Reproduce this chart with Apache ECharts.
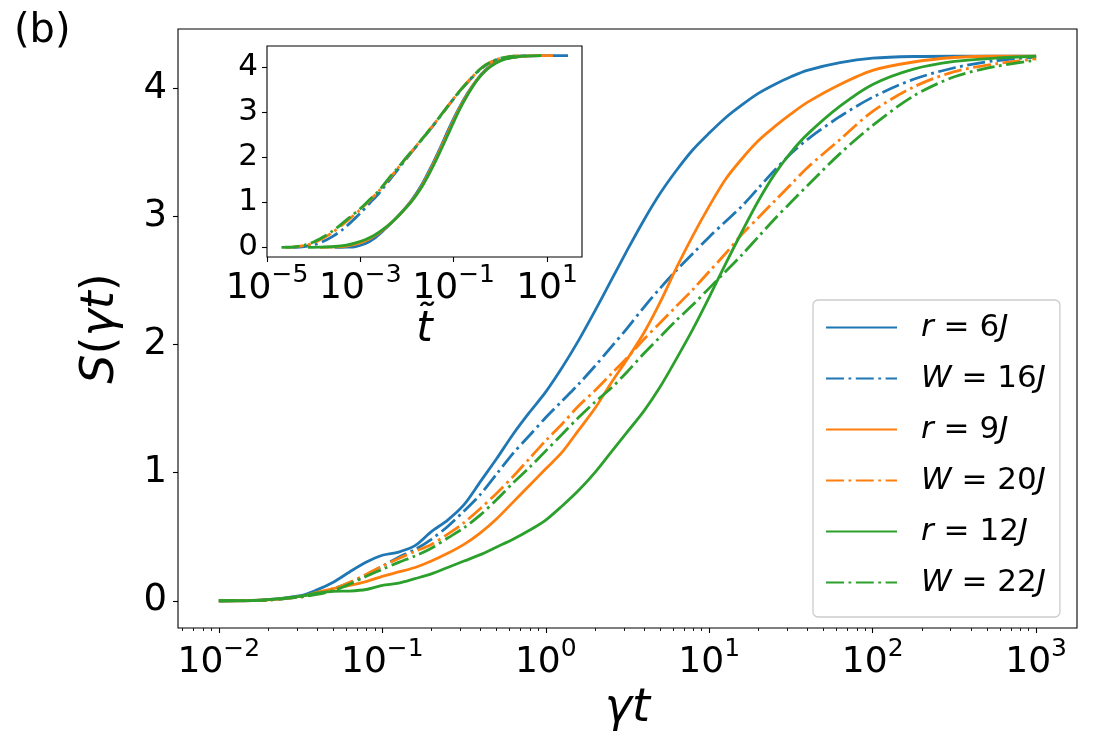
<!DOCTYPE html>
<html>
<head>
<meta charset="utf-8">
<script src="https://cdn.jsdelivr.net/npm/echarts@6/dist/echarts.min.js"></script>
<style>
html, body { margin: 0; padding: 0; background: #fff; }
#main { width: 1100px; height: 750px; }
</style>
</head>
<body>
<div id="main"></div>
<script>
// main panel: x is log10(gamma t)
var logGt = [-2, -1.75, -1.5, -1.4, -1.3, -1.2, -1.1, -1.0, -0.9, -0.8, -0.7, -0.6, -0.5, -0.4, -0.3, -0.2, -0.1,
	0, 0.1, 0.2, 0.3, 0.4, 0.5, 0.6, 0.7, 0.8, 0.9, 1.0, 1.1, 1.2, 1.3, 1.4, 1.5, 1.6, 1.8, 2.0, 2.25, 2.5, 2.75, 3.0];
var sR6 = [0, 0.004, 0.04, 0.085, 0.145, 0.225, 0.30, 0.355, 0.38, 0.43, 0.54, 0.63, 0.75, 0.93, 1.11, 1.30, 1.47,
	1.63, 1.82, 2.03, 2.26, 2.50, 2.74, 2.97, 3.18, 3.36, 3.52, 3.65, 3.77, 3.87, 3.96, 4.03, 4.09, 4.14, 4.20, 4.235, 4.248, 4.25, 4.25, 4.25];
var sW16 = [0, 0.003, 0.03, 0.06, 0.095, 0.14, 0.20, 0.27, 0.34, 0.40, 0.48, 0.58, 0.70, 0.83, 0.99, 1.15, 1.29,
	1.43, 1.56, 1.69, 1.83, 1.98, 2.13, 2.29, 2.44, 2.58, 2.71, 2.84, 2.96, 3.08, 3.22, 3.36, 3.49, 3.60, 3.78, 3.93, 4.07, 4.16, 4.215, 4.244];
var sR9 = [0, 0.004, 0.035, 0.065, 0.095, 0.12, 0.15, 0.19, 0.225, 0.26, 0.31, 0.37, 0.44, 0.53, 0.64, 0.77, 0.90,
	1.03, 1.16, 1.33, 1.50, 1.70, 1.89, 2.09, 2.33, 2.60, 2.85, 3.08, 3.29, 3.45, 3.59, 3.70, 3.80, 3.89, 4.03, 4.14, 4.205, 4.24, 4.25, 4.25];
var sW20 = [0, 0.003, 0.03, 0.055, 0.09, 0.145, 0.205, 0.27, 0.33, 0.385, 0.44, 0.52, 0.61, 0.72, 0.84, 0.97, 1.11,
	1.25, 1.38, 1.52, 1.64, 1.77, 1.90, 2.04, 2.17, 2.30, 2.43, 2.57, 2.71, 2.86, 2.99, 3.12, 3.25, 3.38, 3.60, 3.82, 4.01, 4.13, 4.19, 4.23];
var sR12 = [0, 0.005, 0.035, 0.06, 0.073, 0.076, 0.088, 0.12, 0.138, 0.173, 0.21, 0.26, 0.31, 0.36, 0.42, 0.48, 0.55,
	0.63, 0.74, 0.86, 1.00, 1.16, 1.32, 1.48, 1.67, 1.89, 2.12, 2.37, 2.63, 2.88, 3.12, 3.33, 3.50, 3.64, 3.86, 4.03, 4.15, 4.21, 4.235, 4.25];
var sW22 = [0, 0.003, 0.03, 0.05, 0.08, 0.13, 0.19, 0.245, 0.30, 0.35, 0.41, 0.49, 0.57, 0.67, 0.79, 0.92, 1.04,
	1.17, 1.30, 1.43, 1.55, 1.66, 1.79, 1.93, 2.06, 2.19, 2.31, 2.44, 2.57, 2.70, 2.84, 2.98, 3.11, 3.24, 3.49, 3.71, 3.94, 4.09, 4.17, 4.22];

// inset: x is log10(t~)
var insSolidX = [-4.12, -3.87, -3.55, -3.3, -3.1, -2.9, -2.7, -2.5, -2.3, -2.1, -1.9, -1.7, -1.5, -1.3, -1.1, -0.9, -0.7, -0.5, -0.3, -0.1, 0.1, 0.4, 0.88, 1.13, 1.45];
var insR6 = [null, null, 0, 0.005, 0.02, 0.08, 0.2, 0.38, 0.58, 0.80, 1.05, 1.36, 1.75, 2.18, 2.64, 3.06, 3.42, 3.72, 3.95, 4.10, 4.18, 4.23, 4.25, 4.25, 4.25];
var insR9 = [null, 0, 0.01, 0.03, 0.07, 0.14, 0.25, 0.40, 0.58, 0.79, 1.03, 1.33, 1.71, 2.14, 2.59, 3.03, 3.40, 3.71, 3.94, 4.09, 4.18, 4.23, 4.25, 4.25, null];
var insR12 = [0, 0.005, 0.02, 0.05, 0.1, 0.17, 0.27, 0.41, 0.58, 0.79, 1.02, 1.31, 1.68, 2.10, 2.55, 3.0, 3.38, 3.70, 3.93, 4.08, 4.17, 4.23, 4.25, null, null];
var insDashX = [-4.69, -4.6, -4.45, -4.2, -4.0, -3.8, -3.6, -3.4, -3.2, -3.0, -2.8, -2.6, -2.4, -2.2, -2.0, -1.8, -1.6, -1.4, -1.2, -1.0, -0.8, -0.6, -0.4, -0.2, 0, 0.2, 0.31, 0.4, 0.55];
var insW16 = [null, null, 0, 0.02, 0.06, 0.13, 0.24, 0.38, 0.56, 0.76, 0.98, 1.20, 1.46, 1.72, 1.98, 2.24, 2.49, 2.75, 3.02, 3.29, 3.54, 3.77, 3.97, 4.10, 4.18, 4.22, 4.235, 4.24, 4.245];
var insW20 = [null, 0, 0.005, 0.04, 0.10, 0.20, 0.33, 0.49, 0.66, 0.84, 1.04, 1.25, 1.50, 1.75, 2.00, 2.25, 2.50, 2.76, 3.03, 3.30, 3.55, 3.78, 3.98, 4.11, 4.19, 4.23, 4.24, 4.245, null];
var insW22 = [0, 0.003, 0.008, 0.05, 0.12, 0.23, 0.36, 0.52, 0.69, 0.86, 1.06, 1.26, 1.52, 1.76, 2.01, 2.25, 2.50, 2.76, 3.03, 3.30, 3.55, 3.78, 3.98, 4.11, 4.19, 4.23, 4.24, null, null];

// ticks
var mainXTicks = [-2, -1, 0, 1, 2, 3];
var yTicks = [0, 1, 2, 3, 4];
var insXTicks = [-5, -3, -1, 1];

var names = ['r6', 'W16', 'r9', 'W20', 'r12', 'W22'];
var legendText = {
	r6: '{i|r}{n| = 6}{i|J}',
	W16: '{i|W}{n| = 16}{i|J}',
	r9: '{i|r}{n| = 9}{i|J}',
	W20: '{i|W}{n| = 20}{i|J}',
	r12: '{i|r}{n| = 12}{i|J}',
	W22: '{i|W}{n| = 22}{i|J}'
};
var colors = ['#1f77b4', '#1f77b4', '#ff7f0e', '#ff7f0e', '#2ca02c', '#2ca02c'];
var dashDot = [18, 4.5, 2.8, 4.5];

var FONT = 'DejaVu Sans';

function zip(xs, ys) {
	var out = [];
	for (var i = 0; i < xs.length; i++) {
		out.push([xs[i], ys[i]]);
	}
	return out;
}
function powLabel(v) {
	var e = String(Math.round(v)).replace('-', '\u2212');
	return '{b|10}{s|' + e + '}';
}
// minor log ticks 2..9
var minorTicks = [];
for (var n = -3; n <= 3; n++) {
	for (var k = 2; k <= 9; k++) {
		var v = n + Math.log10(k);
		if (v > -2.25 && v < 3.25) minorTicks.push(v);
	}
}

var powRich = {
	b: { fontSize: 36, fontFamily: FONT, color: '#000', lineHeight: 44, verticalAlign: 'bottom' },
	s: { fontSize: 25, fontFamily: FONT, color: '#000', lineHeight: 26, verticalAlign: 'top' }
};

var mainData = [sR6, sW16, sR9, sW20, sR12, sW22];
var insData = [
	[insSolidX, insR6], [insDashX, insW16], [insSolidX, insR9],
	[insDashX, insW20], [insSolidX, insR12], [insDashX, insW22]
];

var series = [];
for (var i = 0; i < 6; i++) {
	var lt = (i % 2 === 1) ? dashDot : 'solid';
	series.push({
		name: names[i],
		type: 'line',
		xAxisIndex: 0,
		yAxisIndex: 0,
		data: zip(logGt, mainData[i]),
		showSymbol: false,
		symbol: 'none',
		smooth: 0.3,
		color: colors[i],
		lineStyle: { width: 2.8, color: colors[i], type: lt }
	});
}
for (var i = 0; i < 6; i++) {
	var lt = (i % 2 === 1) ? dashDot : 'solid';
	series.push({
		name: 'inset_' + names[i],
		type: 'line',
		xAxisIndex: 2,
		yAxisIndex: 1,
		z: 8,
		data: zip(insData[i][0], insData[i][1]),
		showSymbol: false,
		symbol: 'none',
		smooth: 0.3,
		color: colors[i],
		lineStyle: { width: 2.8, color: colors[i], type: lt }
	});
}

var myChart = echarts.init(document.getElementById('main'));
var option = {
	animation: false,
	backgroundColor: '#fff',
	textStyle: { fontFamily: FONT },
	graphic: [{
		type: 'text',
		left: 14,
		top: 12,
		style: { text: '(b)', fontSize: 40, fontFamily: FONT, fill: '#000' }
	}],
	grid: [
		{ left: 178, top: 29, right: 23, bottom: 122, show: true, borderColor: '#000', borderWidth: 1.1, backgroundColor: '#fff' },
		{ left: 267, top: 46, right: 518, bottom: 493, show: true, borderColor: '#000', borderWidth: 1.1, backgroundColor: '#fff', z: 5 }
	],
	xAxis: [{
		gridIndex: 0,
		type: 'value',
		position: 'bottom',
		min: -2.25,
		max: 3.25,
		axisLine: { show: false, onZero: false },
		splitLine: { show: false },
		axisTick: { show: true, customValues: mainXTicks, length: 5, lineStyle: { color: '#000', width: 1.1 } },
		axisLabel: { customValues: mainXTicks, margin: 9, formatter: powLabel, rich: powRich },
		name: '\u03b3t',
		nameLocation: 'middle',
		nameGap: 58,
		nameTextStyle: { fontSize: 46, fontStyle: 'italic', fontFamily: FONT, color: '#000' }
	}, {
		gridIndex: 0,
		type: 'value',
		position: 'bottom',
		min: -2.25,
		max: 3.25,
		axisLine: { show: false, onZero: false },
		splitLine: { show: false },
		axisTick: { show: true, customValues: minorTicks, length: 3, lineStyle: { color: '#000', width: 0.9 } },
		axisLabel: { show: false }
	}, {
		gridIndex: 1,
		type: 'value',
		position: 'bottom',
		min: -5,
		max: 1.75,
		axisLine: { show: false, onZero: false },
		splitLine: { show: false },
		axisTick: { show: true, customValues: insXTicks, length: 5, lineStyle: { color: '#000', width: 1.1 } },
		axisLabel: { customValues: insXTicks, margin: 6, formatter: powLabel, rich: powRich },
		name: 't\u0303',
		nameLocation: 'middle',
		nameGap: 52,
		nameTextStyle: { fontSize: 42, fontStyle: 'italic', fontFamily: FONT, color: '#000' },
		z: 6
	}],
	yAxis: [{
		gridIndex: 0,
		type: 'value',
		position: 'left',
		min: -0.2125,
		max: 4.4625,
		axisLine: { show: false, onZero: false },
		splitLine: { show: false },
		axisTick: { show: true, customValues: yTicks, length: 5, lineStyle: { color: '#000', width: 1.1 } },
		axisLabel: { customValues: yTicks, margin: 11, fontSize: 37, fontFamily: FONT, color: '#000' },
		name: '{i|S}({i|\u03b3t})',
		nameLocation: 'middle',
		nameRotate: 90,
		nameGap: 54,
		nameTextStyle: {
			fontSize: 46, fontFamily: FONT, color: '#000',
			rich: { i: { fontSize: 46, fontStyle: 'italic', fontFamily: FONT, color: '#000' } }
		}
	}, {
		gridIndex: 1,
		type: 'value',
		position: 'left',
		min: -0.2125,
		max: 4.4625,
		axisLine: { show: false, onZero: false },
		splitLine: { show: false },
		axisTick: { show: true, customValues: yTicks, length: 5, lineStyle: { color: '#000', width: 1.1 } },
		axisLabel: { customValues: yTicks, margin: 9, fontSize: 31, fontFamily: FONT, color: '#000' },
		z: 6
	}],
	legend: {
		data: names,
		orient: 'vertical',
		left: 813,
		top: 300,
		itemWidth: 71,
		itemHeight: 14,
		itemGap: 20,
		padding: [12, 14, 19, 12],
		backgroundColor: '#fff',
		borderColor: '#cccccc',
		borderWidth: 1.3,
		borderRadius: 5,
		itemStyle: { opacity: 0 },
		formatter: function(name) {
			return legendText[name];
		},
		textStyle: {
			padding: [0, 0, 0, 19],
			rich: {
				i: { fontSize: 31, fontStyle: 'italic', fontFamily: FONT, color: '#000', lineHeight: 30 },
				n: { fontSize: 31, fontFamily: FONT, color: '#000', lineHeight: 30 }
			}
		}
	},
	series: series
};
myChart.setOption(option);
</script>
</body>
</html>
